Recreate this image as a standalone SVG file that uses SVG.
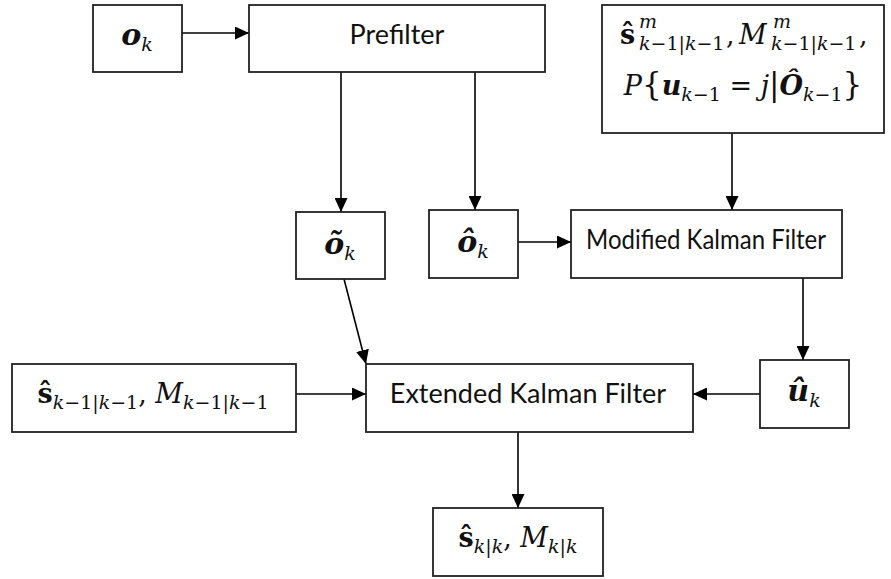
<svg xmlns="http://www.w3.org/2000/svg" width="891" height="579" viewBox="0 0 891 579">
<defs>
<marker id="ah" markerUnits="userSpaceOnUse" markerWidth="15" markerHeight="13" refX="14" refY="6.5" orient="auto">
<path d="M0,0 L14,6.5 L0,13 z" fill="#000"/>
</marker>
<style>
.box{fill:#fff;stroke:#222;stroke-width:1.8}
.lbl{font-family:Lato,"Open Sans","Liberation Sans",sans-serif;font-size:27px;fill:#111}
.m{font-family:"DejaVu Serif","Liberation Serif",serif;font-size:27px;fill:#111}
.b{font-weight:bold;font-style:italic}
.bu{font-weight:bold}
.i{font-style:italic}
.s{font-size:19px}
.c{stroke:#000;stroke-width:1.6;fill:none;marker-end:url(#ah)}
</style>
</defs>
<rect width="891" height="579" fill="#fff"/>
<g id="connectors">
<line class="c" x1="182" y1="33" x2="249" y2="33"/>
<line class="c" x1="341" y1="72" x2="341" y2="212"/>
<line class="c" x1="475" y1="72" x2="475" y2="210"/>
<line class="c" x1="732" y1="133" x2="732" y2="210"/>
<line class="c" x1="518" y1="242" x2="571" y2="242"/>
<line class="c" x1="344" y1="279" x2="366" y2="364"/>
<line class="c" x1="803" y1="278" x2="803" y2="360"/>
<line class="c" x1="760" y1="394" x2="693" y2="394"/>
<line class="c" x1="296" y1="394" x2="366" y2="394"/>
<line class="c" x1="518" y1="432" x2="518" y2="508"/>
</g>
<g id="ok">
<rect class="box" x="93" y="5" width="89" height="67"/>
<text class="m" x="137" y="45" text-anchor="middle"><tspan class="b" font-size="30">o</tspan><tspan class="i s" dy="6">k</tspan></text>
</g>
<g id="prefilter">
<rect class="box" x="249" y="5" width="296" height="67"/>
<text class="lbl" x="397" y="44" text-anchor="middle">Prefilter</text>
</g>
<g id="prior">
<rect class="box" x="602" y="5" width="282" height="128"/>
<text class="m"><tspan class="bu" x="620" y="44">ŝ</tspan><tspan class="i s" x="639" y="28">m</tspan><tspan class="s" x="639" y="50"><tspan class="i">k</tspan>−1|<tspan class="i">k</tspan>−1</tspan><tspan x="726" y="44">,</tspan><tspan class="i" x="739" y="44">M</tspan><tspan class="i s" x="773" y="28">m</tspan><tspan class="s" x="771" y="50"><tspan class="i">k</tspan>−1|<tspan class="i">k</tspan>−1</tspan><tspan x="859" y="44">,</tspan></text>
<text class="m" x="743" y="95" text-anchor="middle"><tspan class="i">P</tspan><tspan font-size="31">{</tspan><tspan class="b">u</tspan><tspan class="s" dy="6"><tspan class="i">k</tspan>−1</tspan><tspan dy="-6"> = </tspan><tspan class="i">j</tspan><tspan font-size="31">|</tspan><tspan class="b">Ô</tspan><tspan class="s" dy="6"><tspan class="i">k</tspan>−1</tspan><tspan font-size="31" dy="-6">}</tspan></text>
</g>
<g id="otilde">
<rect class="box" x="296" y="212" width="89" height="67"/>
<text class="m" x="340" y="254" text-anchor="middle"><tspan class="b" font-size="30">õ</tspan><tspan class="i s" dy="6">k</tspan></text>
</g>
<g id="ohat">
<rect class="box" x="429" y="210" width="89" height="68"/>
<text class="m" x="473" y="252" text-anchor="middle"><tspan class="b" font-size="30">ô</tspan><tspan class="i s" dy="6">k</tspan></text>
</g>
<g id="mkf">
<rect class="box" x="571" y="210" width="271" height="68"/>
<text class="lbl" x="706" y="249" text-anchor="middle" textLength="240" lengthAdjust="spacingAndGlyphs">Modified Kalman Filter</text>
</g>
<g id="sprev">
<rect class="box" x="12" y="364" width="284" height="68"/>
<text class="m" x="153" y="403" text-anchor="middle"><tspan class="bu">ŝ</tspan><tspan class="s" dy="6"><tspan class="i">k</tspan>−1|<tspan class="i">k</tspan>−1</tspan><tspan dy="-6">, </tspan><tspan class="i">M</tspan><tspan class="s" dy="6"><tspan class="i">k</tspan>−1|<tspan class="i">k</tspan>−1</tspan></text>
</g>
<g id="ekf">
<rect class="box" x="366" y="364" width="327" height="68"/>
<text class="lbl" x="528" y="403" text-anchor="middle">Extended Kalman Filter</text>
</g>
<g id="uhat">
<rect class="box" x="760" y="360" width="89" height="68"/>
<text class="m" x="804" y="401" text-anchor="middle"><tspan class="b" font-size="30">û</tspan><tspan class="i s" dy="6">k</tspan></text>
</g>
<g id="spost">
<rect class="box" x="433" y="508" width="170" height="68"/>
<text class="m" x="518" y="547" text-anchor="middle"><tspan class="bu">ŝ</tspan><tspan class="s" dy="6"><tspan class="i">k</tspan>|<tspan class="i">k</tspan></tspan><tspan dy="-6">, </tspan><tspan class="i">M</tspan><tspan class="s" dy="6"><tspan class="i">k</tspan>|<tspan class="i">k</tspan></tspan></text>
</g>
</svg>
